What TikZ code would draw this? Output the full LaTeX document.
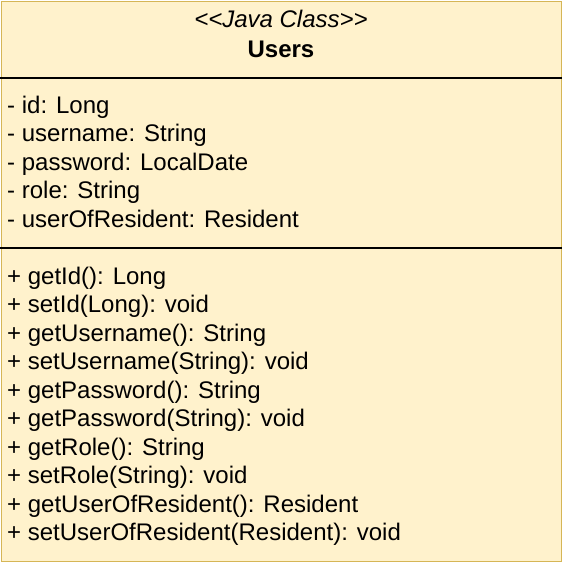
\documentclass[tikz,border=0pt]{standalone}
\usepackage{fontspec}
\setmainfont{Liberation Sans}
\definecolor{boxfill}{HTML}{FFF2CC}
\definecolor{boxline}{HTML}{D6B656}
\begin{document}
\begin{tikzpicture}[x=1pt,y=-1pt,
  member/.style={anchor=base west,inner sep=0pt,font=\fontsize{24}{28}\selectfont},
  head/.style={anchor=base,inner sep=0pt,font=\fontsize{24}{28}\selectfont}]
\useasboundingbox (0,0) rectangle (562,562);
\node[draw=boxline,fill=boxfill,line width=1.5pt,minimum width=560.5pt,minimum height=560.5pt,inner sep=0pt,anchor=north west] (cls) at (0.75,0.75) {};
\coordinate (d1l) at (0,78); \coordinate (d1r) at (562,78);
\coordinate (d2l) at (0,248); \coordinate (d2r) at (562,248);
\draw[line width=1.6pt] (d1l) -- (d1r);
\draw[line width=1.6pt] (d2l) -- (d2r);
\node[head] (stereo) at (281,27.5) {\itshape <{}<Java Class>{}>};
\node[head] (name) at (281,57) {\bfseries Users};
\node[member] (a1) at (7,113) {- id: Long};
\node[member] (a2) at (7,141.5) {- username: String};
\node[member] (a3) at (7,170) {- password: LocalDate};
\node[member] (a4) at (7,198.5) {- role: String};
\node[member] (a5) at (7,227) {- userOfResident: Resident};
\node[member] (m1) at (7,284) {+ getId(): Long};
\node[member] (m2) at (7,312.5) {+ setId(Long): void};
\node[member] (m3) at (7,341) {+ getUsername(): String};
\node[member] (m4) at (7,369.5) {+ setUsername(String): void};
\node[member] (m5) at (7,398) {+ getPassword(): String};
\node[member] (m6) at (7,426.5) {+ getPassword(String): void};
\node[member] (m7) at (7,455) {+ getRole(): String};
\node[member] (m8) at (7,483.5) {+ setRole(String): void};
\node[member] (m9) at (7,512) {+ getUserOfResident(): Resident};
\node[member] (m10) at (7,540.5) {+ setUserOfResident(Resident): void};
\end{tikzpicture}
\end{document}
